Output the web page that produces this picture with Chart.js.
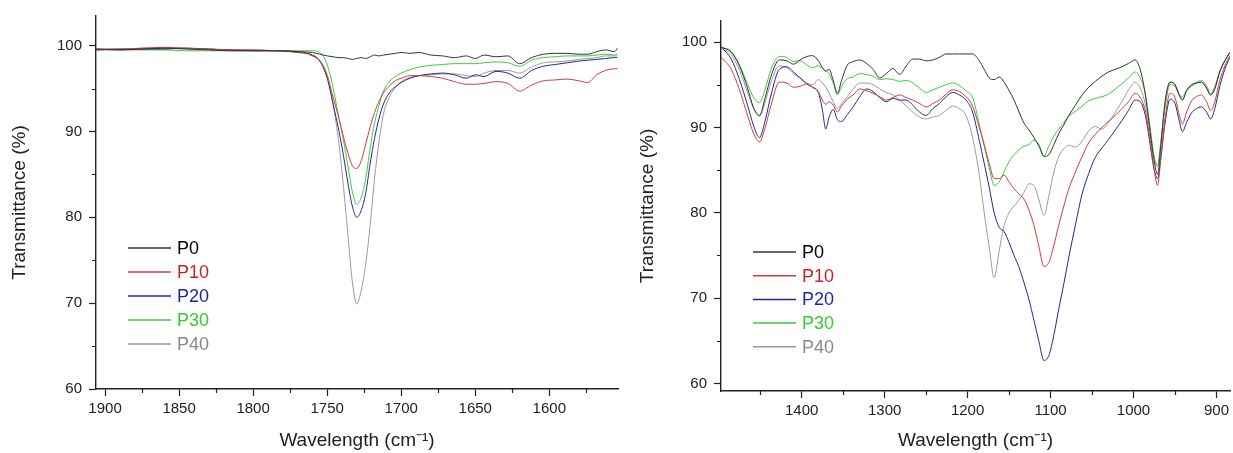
<!DOCTYPE html>
<html>
<head>
<meta charset="utf-8">
<script src="https://cdn.jsdelivr.net/npm/chart.js@4.4.1/dist/chart.umd.min.js"></script>
<style>
  html, body { margin: 0; padding: 0; background: #fff; }
  #wrap { position: relative; width: 1233px; height: 453px; }
  .panel { position: absolute; top: 0; height: 453px; }
</style>
</head>
<body>
<div id="wrap">
  <div class="panel" style="left:0;width:625px"><canvas id="leftChart"></canvas></div>
  <div class="panel" style="left:625px;width:608px"><canvas id="rightChart"></canvas></div>
</div>
<script>
// FTIR transmittance spectra, two wavenumber windows

const seriesNames = ['P0', 'P10', 'P20', 'P30', 'P40'];

// left panel: carbonyl region
const leftWavenumbers = [1906, 1890, 1875, 1860, 1845, 1830, 1815, 1800, 1785, 1770,
  1760, 1755, 1750, 1746, 1742, 1739, 1736, 1733, 1730, 1727,
  1724, 1721, 1718, 1715, 1712, 1708, 1704, 1700, 1694, 1688,
  1680, 1672, 1664, 1656, 1650, 1644, 1636, 1628, 1620, 1612,
  1604, 1596, 1588, 1580, 1574, 1568, 1562, 1556, 1554];
const leftP0 = [99.6, 99.5, 99.6, 99.7, 99.6, 99.5, 99.4, 99.4, 99.4, 99.3,
  99.2, 99.0, 98.8, 98.7, 98.6, 98.6, 98.5, 98.4, 98.5, 98.6,
  98.5, 98.7, 98.9, 98.8, 98.9, 99.0, 99.1, 99.2, 99.1, 99.2,
  98.9, 98.8, 98.6, 98.8, 98.5, 98.9, 98.7, 98.8, 97.9, 98.6,
  99.0, 99.1, 99.1, 99.0, 99.0, 99.3, 99.5, 99.3, 99.7];
const leftP10 = [99.6, 99.6, 99.7, 99.8, 99.7, 99.6, 99.5, 99.5, 99.4, 99.3,
  98.8, 98.2, 96.5, 94.0, 91.5, 89.4, 87.5, 86.0, 85.7, 86.6,
  88.5, 90.5, 92.2, 93.5, 94.5, 95.3, 95.9, 96.2, 96.5, 96.5,
  96.4, 96.2, 95.8, 95.5, 95.5, 95.6, 95.8, 95.6, 94.7, 95.4,
  95.9, 96.0, 96.1, 95.9, 95.7, 96.6, 97.1, 97.3, 97.3];
const leftP20 = [99.5, 99.6, 99.6, 99.6, 99.7, 99.6, 99.5, 99.4, 99.4, 99.2,
  98.9, 98.2, 96.2, 93.2, 90.0, 87.2, 84.0, 81.3, 80.0, 80.8,
  82.8, 86.2, 89.2, 91.5, 93.2, 94.5, 95.2, 95.7, 96.2, 96.5,
  96.7, 96.8, 96.6, 96.2, 96.6, 96.4, 97.0, 96.8, 96.2, 97.1,
  97.6, 97.8, 98.0, 98.2, 98.3, 98.4, 98.5, 98.6, 98.6];
const leftP30 = [99.5, 99.5, 99.5, 99.5, 99.4, 99.4, 99.4, 99.4, 99.4, 99.4,
  99.4, 99.2, 97.8, 95.1, 91.5, 89.0, 86.0, 83.0, 81.5, 82.3,
  84.5, 88.0, 91.0, 93.0, 94.7, 95.8, 96.4, 96.8, 97.2, 97.5,
  97.7, 97.8, 97.9, 97.9, 97.9, 98.0, 98.1, 98.0, 97.6, 98.3,
  98.6, 98.7, 98.8, 98.8, 98.8, 98.9, 99.0, 98.9, 99.0];
const leftP40 = [99.6, 99.5, 99.7, 99.7, 99.7, 99.6, 99.5, 99.5, 99.4, 99.3,
  98.9, 98.3, 96.6, 93.2, 88.5, 83.6, 78.0, 72.5, 69.9, 71.5,
  74.5, 79.0, 84.5, 88.8, 92.0, 94.0, 95.1, 95.8, 96.3, 96.5,
  96.6, 96.7, 96.7, 96.5, 96.4, 96.8, 97.1, 97.1, 96.8, 97.5,
  98.0, 98.1, 98.2, 98.4, 98.5, 98.6, 98.8, 98.8, 98.8];

// right panel: fingerprint region
const rightWavenumbers = [1497, 1485, 1475, 1465, 1458, 1451, 1444, 1437, 1427, 1418,
  1410, 1402, 1394, 1387, 1380, 1375, 1371, 1367, 1362, 1357,
  1352, 1345, 1338, 1330, 1322, 1314, 1306, 1298, 1290, 1282,
  1274, 1266, 1258, 1250, 1242, 1234, 1226, 1218, 1210, 1202,
  1194, 1186, 1180, 1174, 1168, 1162, 1156, 1150, 1144, 1138,
  1132, 1126, 1120, 1114, 1108, 1102, 1096, 1090, 1084, 1078,
  1070, 1062, 1054, 1046, 1038, 1030, 1022, 1014, 1006, 998,
  992, 986, 980, 975, 971, 967, 962, 956, 950, 945,
  941, 936, 930, 924, 918, 912, 907, 902, 896, 890,
  884];
const rightP0 = [99.4, 98.8, 97.2, 94.5, 92.3, 91.4, 93.5, 96.0, 97.9, 97.8,
  97.4, 97.9, 98.3, 98.4, 97.8, 97.0, 96.6, 96.8, 95.5, 94.0,
  95.5, 97.3, 97.7, 97.9, 97.5, 96.8, 95.8, 96.3, 96.9, 96.2,
  97.2, 98.0, 98.0, 97.8, 97.9, 98.2, 98.6, 98.6, 98.6, 98.6,
  98.6, 97.8, 96.8, 95.8, 95.6, 95.9, 95.3, 94.3, 93.2, 91.8,
  90.5, 89.7, 88.8, 87.8, 86.6, 86.8, 88.0, 89.3, 90.3, 91.4,
  92.6, 93.8, 94.7, 95.4, 96.0, 96.5, 96.8, 97.1, 97.5, 97.9,
  96.8, 94.0, 89.5, 86.0, 84.5, 88.0, 93.0, 95.3, 95.0, 93.8,
  93.2, 94.3, 95.0, 95.2, 95.3, 94.6, 93.8, 94.5, 96.5, 97.8,
  98.8];
const rightP10 = [98.2, 96.8, 94.4, 91.3, 89.3, 88.3, 90.0, 92.6, 95.3, 95.2,
  94.7, 94.8, 95.1, 94.7, 94.2, 93.2, 92.7, 93.0, 92.6, 91.8,
  92.5, 93.3, 93.8, 94.5, 94.3, 94.0, 93.6, 93.2, 93.5, 93.8,
  93.5, 93.2, 92.8, 92.4, 92.8, 93.2, 93.9, 94.4, 94.2, 93.6,
  92.5, 90.0, 88.0, 85.8, 84.0, 84.0, 84.4, 83.6, 82.8, 82.2,
  81.6, 80.3, 78.5, 76.0, 73.7, 74.2, 76.2, 78.6, 80.8, 82.8,
  84.8, 86.6, 88.2, 89.2, 90.0, 90.7, 91.4, 92.2, 93.0, 94.0,
  93.5, 92.0, 88.5, 85.0, 83.2, 86.5, 91.0, 94.0, 93.5, 91.5,
  90.4, 91.8, 93.1, 93.6, 93.8, 93.0, 92.0, 93.0, 95.5, 97.2,
  98.4];
const rightP20 = [99.4, 98.0, 95.6, 92.5, 90.2, 88.8, 90.8, 93.8, 96.8, 97.1,
  96.5, 95.8, 95.1, 94.7, 94.1, 92.0, 89.8, 91.2, 92.1, 90.9,
  90.7, 91.5, 92.4, 93.6, 94.5, 94.2, 93.5, 93.0, 93.4, 93.2,
  93.2, 92.6, 91.8, 91.4, 92.2, 92.8, 93.6, 94.1, 93.8, 93.2,
  91.8, 88.5, 85.8, 83.0, 80.0, 78.3, 77.8, 76.5, 75.0, 73.6,
  71.8, 69.8, 67.4, 64.9, 62.7, 63.3, 65.7, 68.8, 71.7, 74.8,
  78.6, 82.2, 84.6, 86.5, 87.6, 88.6, 89.7, 90.8, 92.0, 93.2,
  93.0, 91.5, 88.0, 85.0, 84.0, 86.5, 90.5, 93.3, 92.8, 90.8,
  89.5, 90.6, 91.7, 92.2, 92.4, 91.8, 91.0, 92.2, 94.8, 96.8,
  98.2];
const rightP30 = [99.4, 98.9, 97.3, 95.0, 93.5, 92.9, 94.5, 96.8, 98.3, 98.2,
  97.7, 97.8, 97.3, 97.0, 97.2, 96.9, 96.6, 96.3, 95.2, 93.8,
  94.8, 95.7, 95.9, 96.3, 96.2, 96.0, 95.6, 95.7, 95.6, 95.4,
  95.5, 95.2, 94.6, 94.1, 94.4, 94.7, 95.0, 95.2, 94.9, 94.3,
  93.5, 90.4, 87.8, 85.3, 83.2, 83.6, 84.8, 86.0, 86.8, 87.4,
  87.8, 88.0, 88.5, 88.0, 86.7, 87.8, 89.0, 89.8, 90.6, 91.3,
  91.9, 92.5, 93.1, 93.4, 93.6, 93.9, 94.5, 95.1, 95.8, 96.5,
  95.8, 94.0, 90.0, 86.5, 85.6, 88.5, 92.5, 95.3, 95.0, 93.9,
  93.3, 94.3, 94.8, 95.2, 95.3, 94.6, 93.8, 94.6, 96.6, 97.8,
  98.7];
const rightP40 = [99.3, 98.5, 96.7, 94.0, 92.2, 91.3, 93.0, 95.3, 97.2, 97.0,
  96.3, 95.8, 95.2, 95.0, 95.6, 95.2, 94.7, 94.0, 93.0, 92.2,
  92.8, 93.6, 94.5, 95.2, 95.2, 95.0, 94.5, 94.1, 93.8, 93.2,
  92.5, 91.8, 91.2, 91.0, 91.2, 91.4, 92.0, 92.5, 92.2, 91.4,
  88.8, 84.5, 80.0, 76.0, 72.4, 75.5, 78.5, 80.0, 80.8, 81.5,
  82.4, 83.4, 83.2, 81.5, 79.7, 82.0, 84.8, 86.6, 87.5, 87.9,
  87.7, 88.4, 89.6, 90.1, 89.8, 90.6, 91.8, 93.0, 94.4, 95.3,
  94.6, 92.8, 89.5, 86.3, 85.4, 88.0, 92.3, 95.0, 94.8, 93.8,
  93.6, 94.4, 94.9, 95.3, 95.5, 94.9, 94.0, 94.8, 96.6, 97.8,
  98.7];

// tick labels
const leftXTicks = [1900, 1850, 1800, 1750, 1700, 1650, 1600];
const rightXTicks = [1400, 1300, 1200, 1100, 1000, 900];
const yTicks = [60, 70, 80, 90, 100];

const lineColors = ['#333333', '#d43a3a', '#26268f', '#3ccc3c', '#9a9a9a'];
const legendTextColors = ['#000000', '#cc1f1f', '#1f1fa8', '#33cc33', '#8a8a8a'];
const FONT = "'Liberation Sans', Arial, sans-serif";

function minorsOf(majors, lo, hi) {
  const step = majors[1] - majors[0];
  const out = [];
  for (let i = -1; i < majors.length; i++) {
    const v = majors[0] + step * (i + 0.5);
    if (v >= lo && v <= hi) out.push(v);
  }
  return out;
}

// small outward minor ticks on x and y axes
const minorTicks = {
  id: 'minorTicks',
  afterDraw(chart) {
    const ctx = chart.ctx;
    const { x, y } = chart.scales;
    ctx.save();
    ctx.strokeStyle = '#222';
    ctx.lineWidth = 1.2;
    ctx.beginPath();
    minorsOf(chart.options.plugins.minorTicks.xMajors, x.min, x.max).forEach(v => {
      const px = Math.round(x.getPixelForValue(v)) + 0.5;
      ctx.moveTo(px, x.top);
      ctx.lineTo(px, x.top + 4);
    });
    minorsOf(yTicks, y.min, y.max).forEach(v => {
      const py = Math.round(y.getPixelForValue(v)) + 0.5;
      ctx.moveTo(y.right, py);
      ctx.lineTo(y.right - 4, py);
    });
    ctx.stroke();
    ctx.restore();
  }
};

// legend drawn inside the plot area
const innerLegend = {
  id: 'innerLegend',
  afterDraw(chart) {
    const o = chart.options.plugins.innerLegend;
    const ctx = chart.ctx;
    ctx.save();
    ctx.font = '18px ' + FONT;
    ctx.textBaseline = 'middle';
    chart.data.datasets.forEach((ds, i) => {
      const yy = o.y + i * o.gap;
      ctx.strokeStyle = ds.borderColor;
      ctx.lineWidth = 1.5;
      ctx.beginPath();
      ctx.moveTo(o.x, yy);
      ctx.lineTo(o.x + 43, yy);
      ctx.stroke();
      ctx.fillStyle = legendTextColors[i];
      ctx.fillText(ds.label, o.x + 49, yy + 1);
    });
    ctx.restore();
  }
};

function makeDatasets(wn, series) {
  return series.map((vals, i) => ({
    label: seriesNames[i],
    data: wn.map((w, k) => ({ x: w, y: vals[k] })),
    borderColor: lineColors[i],
    borderWidth: 1,
    pointRadius: 0,
    cubicInterpolationMode: 'monotone',
    fill: false
  }));
}

function makeChart(id, wn, series, cfg) {
  return new Chart(document.getElementById(id), {
    type: 'line',
    data: { datasets: makeDatasets(wn, series) },
    options: {
      responsive: true,
      maintainAspectRatio: false,
      animation: false,
      layout: { padding: { top: cfg.top, right: cfg.right, left: 0, bottom: 0 } },
      plugins: {
        legend: { display: false },
        tooltip: { enabled: false },
        minorTicks: { xMajors: cfg.xTicks },
        innerLegend: { x: cfg.legX, y: cfg.legY, gap: cfg.legGap }
      },
      scales: {
        x: {
          type: 'linear',
          reverse: true,
          min: cfg.xMin,
          max: cfg.xMax,
          afterBuildTicks: s => { s.ticks = cfg.xTicks.map(v => ({ value: v })); },
          afterFit: s => { s.height = cfg.bottom; },
          grid: { drawOnChartArea: false, drawTicks: true, tickLength: 7, tickColor: '#222', tickWidth: 1.2 },
          border: { display: true, color: '#222', width: 1.4 },
          ticks: { color: '#222', font: { family: FONT, size: 15 }, padding: 4, maxRotation: 0,
                   callback: v => String(v) },
          title: { display: true, text: 'Wavelength (cm\u207B\u00B9)', color: '#222',
                   font: { family: FONT, size: 19 }, padding: { top: 0, bottom: 1 } }
        },
        y: {
          min: cfg.yMin,
          max: cfg.yMax,
          afterBuildTicks: s => { s.ticks = yTicks.map(v => ({ value: v })); },
          afterFit: s => { s.width = 96; },
          grid: { drawOnChartArea: false, drawTicks: true, tickLength: 7, tickColor: '#222', tickWidth: 1.2 },
          border: { display: true, color: '#222', width: 1.4 },
          ticks: { color: '#222', font: { family: FONT, size: 15 }, padding: 7,
                   callback: v => String(v) },
          title: { display: true, text: 'Transmittance (%)', color: '#222',
                   font: { family: FONT, size: 19 }, padding: { top: cfg.yTitlePad, bottom: 0 } }
        }
      }
    },
    plugins: [minorTicks, innerLegend]
  });
}

makeChart('leftChart', leftWavenumbers, [leftP0, leftP10, leftP20, leftP30, leftP40], {
  xMin: 1553.6, xMax: 1906.1, yMin: 60, yMax: 103.45, xTicks: leftXTicks,
  top: 11, right: 7, bottom: 64, yTitlePad: 8,
  legX: 128, legY: 248, legGap: 24
});

makeChart('rightChart', rightWavenumbers, [rightP0, rightP10, rightP20, rightP30, rightP40], {
  xMin: 883.6, xMax: 1497.3, yMin: 59.13, yMax: 102.46, xTicks: rightXTicks,
  top: 21, right: 0, bottom: 62, yTitlePad: 11,
  legX: 128, legY: 252, legGap: 23.7
});
</script>
</body>
</html>
